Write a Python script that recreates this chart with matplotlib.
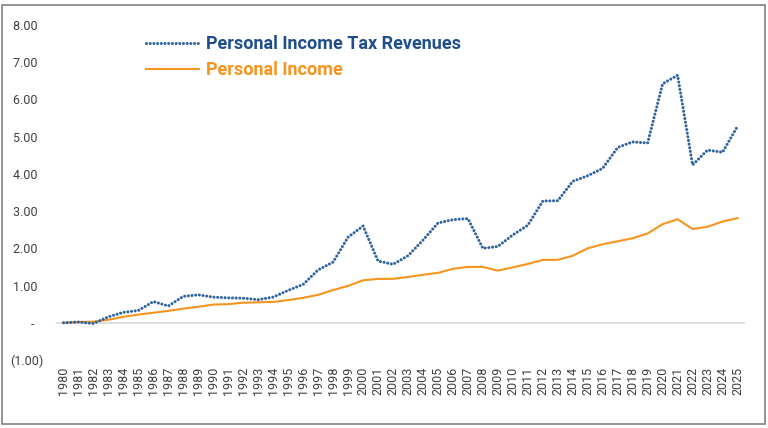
import matplotlib
matplotlib.use("Agg")
import matplotlib.pyplot as plt
from matplotlib.patches import Rectangle

years = [str(y) for y in range(1980, 2026)]
tax_revenues = [0.00, 0.02, -0.02, 0.16, 0.28, 0.33, 0.57, 0.45, 0.71, 0.75,
                0.69, 0.67, 0.66, 0.62, 0.69, 0.87, 1.03, 1.42, 1.63, 2.30,
                2.60, 1.66, 1.57, 1.80, 2.22, 2.68, 2.77, 2.80, 2.00, 2.05,
                2.36, 2.62, 3.27, 3.28, 3.80, 3.95, 4.15, 4.71, 4.86, 4.83,
                6.42, 6.65, 4.24, 4.64, 4.58, 5.28]
personal_income = [0.00, 0.02, 0.03, 0.08, 0.16, 0.22, 0.27, 0.32, 0.38, 0.43,
                   0.49, 0.50, 0.54, 0.55, 0.56, 0.61, 0.67, 0.75, 0.88, 0.99,
                   1.14, 1.18, 1.18, 1.23, 1.29, 1.34, 1.45, 1.50, 1.50, 1.40,
                   1.49, 1.58, 1.69, 1.69, 1.80, 2.00, 2.11, 2.19, 2.27, 2.40,
                   2.65, 2.78, 2.52, 2.58, 2.72, 2.81]
y_ticks = [-1, 0, 1, 2, 3, 4, 5, 6, 7, 8]
y_labels = ["(1.00)", "-   ", "1.00  ", "2.00  ", "3.00  ", "4.00  ", "5.00  ", "6.00  ", "7.00  ", "8.00  "]

plt.rcParams['font.family'] = ['Roboto', 'DejaVu Sans']

fig = plt.figure(figsize=(7.68, 4.28), dpi=100)
ax = fig.add_axes([56/768, 1-360/428, (745-56)/768, (360-25)/428])

x = list(range(len(years)))
ax.axhline(0, color='#D9D9D9', lw=1.2, zorder=1)
ax.plot(x, tax_revenues, color='#2F63A0', lw=2.2, linestyle=(0, (0.01, 1.2)),
        dash_capstyle='round', label='Personal Income Tax Revenues', zorder=3)
ax.plot(x, personal_income, color='#F7941D', lw=1.5, label='Personal Income', zorder=2)

ax.set_xlim(-0.5, len(years) - 0.5)
ax.set_ylim(-1, 8)
ax.set_xticks(x)
ax.set_xticklabels(years, rotation=90, fontsize=9, color='#404040')
ax.set_yticks(y_ticks)
ax.set_yticklabels(y_labels, fontsize=9, color='#404040')
ax.tick_params(axis='both', length=0)
ax.tick_params(axis='y', pad=9)
ax.tick_params(axis='x', pad=5)
for s in ax.spines.values():
    s.set_visible(False)

leg = ax.legend(loc='upper left', bbox_to_anchor=(130/768, 1-19/428),
                bbox_transform=fig.transFigure, frameon=False,
                prop={'family': 'Roboto', 'weight': 'bold', 'size': 13},
                handlelength=2.9, handletextpad=0.4, labelspacing=0.45)
for t, c in zip(leg.get_texts(), ['#1F4E8C', '#F7941D']):
    t.set_color(c)

fig.patches.append(Rectangle((2/768, 4/428), 763/768, 419/428, transform=fig.transFigure,
                             fill=False, edgecolor='#808080', lw=1.2))

fig.savefig('out.png', dpi=100)
